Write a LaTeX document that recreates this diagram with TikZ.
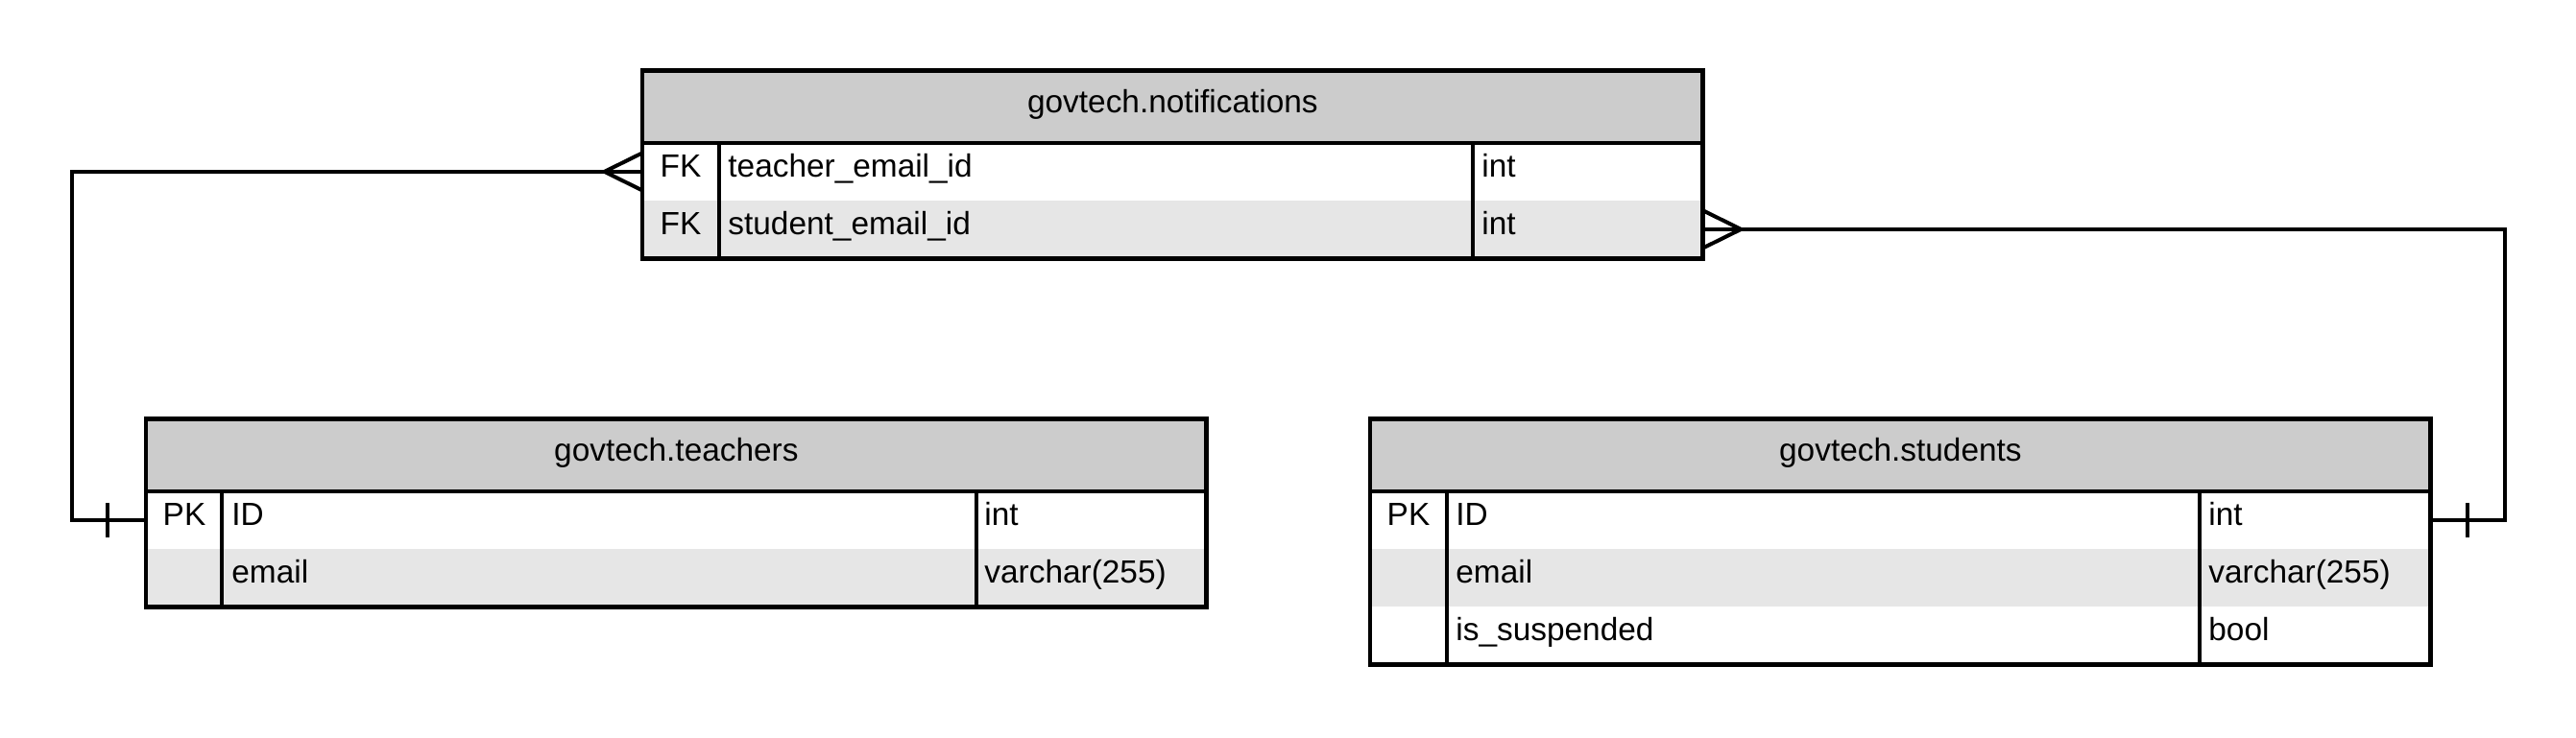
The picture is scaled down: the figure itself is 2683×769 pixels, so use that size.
\documentclass[tikz,border=0pt]{standalone}
\usepackage{fontspec}
\setmainfont{Liberation Sans}
\usetikzlibrary{calc}
\definecolor{hdrgray}{HTML}{CCCCCC}
\definecolor{altgray}{HTML}{E6E6E6}
\newcommand\erfont{\fontsize{16.7}{20}\selectfont}
\begin{document}
\begin{tikzpicture}[x=0.5pt,y=-0.5pt,
  hdr/.style={fill=hdrgray, draw=none, inner sep=0, anchor=north west, minimum width=552pt, minimum height=37.5pt, text height=10pt, text depth=4pt, font=\erfont},
  rowcell/.style={draw=none, inner sep=0, anchor=north west, minimum width=552pt, minimum height=30pt},
  altrow/.style={rowcell, fill=altgray},
  txt/.style={inner sep=0, text height=10pt, text depth=4pt, font=\erfont},
  keytxt/.style={txt, anchor=center},
  nametxt/.style={txt, anchor=west},
  outer/.style={draw=black, line width=2.4pt},
  inner/.style={draw=black, line width=2pt},
  conn/.style={draw=black, line width=2pt, line join=miter}
]
\useasboundingbox (0,0) rectangle (2683,769);

% ---------- notifications ----------
\node[hdr] (nh) at (669,73.5) {govtech.notifications};
\node[rowcell] (n1) at (669,148.5) {};
\node[altrow] (n2) at (669,208.5) {};
\node[keytxt] at ($(n1.west)+(40,0)$) {FK};
\node[nametxt] at ($(n1.west)+(89,0)$) {teacher\_email\_id};
\node[nametxt] at ($(n1.west)+(874,0)$) {int};
\node[keytxt] at ($(n2.west)+(40,0)$) {FK};
\node[nametxt] at ($(n2.west)+(89,0)$) {student\_email\_id};
\node[nametxt] at ($(n2.west)+(874,0)$) {int};
\draw[inner] (nh.south west) -- (nh.south east);
\draw[inner] ($(n1.north west)+(80,0)$) -- ($(n2.south west)+(80,0)$);
\draw[inner] ($(n1.north west)+(865,0)$) -- ($(n2.south west)+(865,0)$);
\draw[outer] (nh.north west) rectangle (n2.south east);

% ---------- teachers ----------
\node[hdr] (th) at (152,436.5) {govtech.teachers};
\node[rowcell] (t1) at (152,511.5) {};
\node[altrow] (t2) at (152,571.5) {};
\node[keytxt] at ($(t1.west)+(40,0)$) {PK};
\node[nametxt] at ($(t1.west)+(89,0)$) {ID};
\node[nametxt] at ($(t1.west)+(873,0)$) {int};
\node[nametxt] at ($(t2.west)+(89,0)$) {email};
\node[nametxt] at ($(t2.west)+(873,0)$) {varchar(255)};
\draw[inner] (th.south west) -- (th.south east);
\draw[inner] ($(t1.north west)+(79,0)$) -- ($(t2.south west)+(79,0)$);
\draw[inner] ($(t1.north west)+(864.5,0)$) -- ($(t2.south west)+(864.5,0)$);
\draw[outer] (th.north west) rectangle (t2.south east);

% ---------- students ----------
\node[hdr] (sh) at (1427,436.5) {govtech.students};
\node[rowcell] (s1) at (1427,511.5) {};
\node[altrow] (s2) at (1427,571.5) {};
\node[rowcell] (s3) at (1427,631.5) {};
\node[keytxt] at ($(s1.west)+(40,0)$) {PK};
\node[nametxt] at ($(s1.west)+(89,0)$) {ID};
\node[nametxt] at ($(s1.west)+(873,0)$) {int};
\node[nametxt] at ($(s2.west)+(89,0)$) {email};
\node[nametxt] at ($(s2.west)+(873,0)$) {varchar(255)};
\node[nametxt] at ($(s3.west)+(89,0)$) {is\_suspended};
\node[nametxt] at ($(s3.west)+(873,0)$) {bool};
\draw[inner] (sh.south west) -- (sh.south east);
\draw[inner] ($(s1.north west)+(79.5,0)$) -- ($(s3.south west)+(79.5,0)$);
\draw[inner] ($(s1.north west)+(863.5,0)$) -- ($(s3.south west)+(863.5,0)$);
\draw[outer] (sh.north west) rectangle (s3.south east);

% ---------- connectors ----------
\draw[conn] (t1.west) -- ++(-77.5,0) |- (n1.west);
\draw[conn] ($(n1.west)+(0,-19.5)$) -- ($(n1.west)+(-39.5,0)$) -- ($(n1.west)+(0,19.5)$);
\draw[conn] ($(t1.west)+(-40,-18)$) -- ($(t1.west)+(-40,18)$);

\draw[conn] (n2.east) -- ++(835,0) |- (s1.east);
\draw[conn] ($(n2.east)+(0,-19.5)$) -- ($(n2.east)+(39.5,0)$) -- ($(n2.east)+(0,19.5)$);
\draw[conn] ($(s1.east)+(38.5,-18)$) -- ($(s1.east)+(38.5,18)$);
\end{tikzpicture}
\end{document}
